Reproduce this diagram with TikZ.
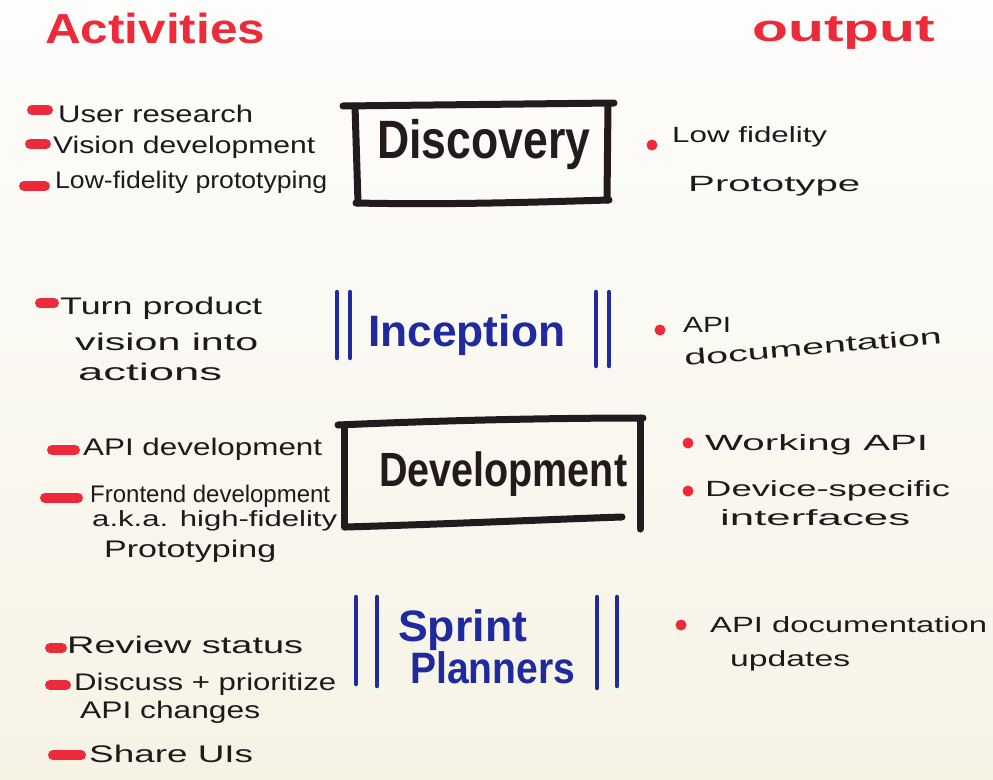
\documentclass[tikz,border=0pt]{standalone}
\usepackage{fontspec}
\setmainfont{Liberation Sans}
\usepackage{graphicx}
% stretch a line of text to a given width (in pt) while keeping its height
\newcommand\fitw[2]{\resizebox{#1pt}{\height}{#2}}

\definecolor{ink}{HTML}{1E1A1C}
\definecolor{marker}{HTML}{231A1E}
\definecolor{redmark}{HTML}{EC2A3A}
\definecolor{bluemark}{HTML}{1F2A9E}
\definecolor{paperTop}{HTML}{FDFDFC}
\definecolor{paperBot}{HTML}{F6F3E5}

\begin{document}
\begin{tikzpicture}[x=1pt,y=-1pt,
  note/.style={anchor=base west,inner sep=0pt,text=ink,font=\fontsize{24}{26}\selectfont},
  outnote/.style={note,font=\fontsize{22}{24}\selectfont},
  heading/.style={anchor=base west,inner sep=0pt,text=redmark,font=\bfseries\fontsize{42}{46}\selectfont},
  phase/.style={anchor=base west,inner sep=0pt,text=marker,font=\bfseries\fontsize{54}{58}\selectfont},
  meeting/.style={anchor=base west,inner sep=0pt,text=bluemark,font=\bfseries\fontsize{44}{48}\selectfont},
  bullet/.style={line width=10pt,line cap=round,draw=redmark},
  dot/.style={fill=redmark},
  frame/.style={line width=7pt,line cap=round,line join=round,draw=marker},
  bar/.style={line width=4.5pt,line cap=round,draw=bluemark}]

% paper
\useasboundingbox (0,0) rectangle (993,779);
\shade[top color=paperTop,bottom color=paperBot] (0,0) rectangle (993,779);

% column headings
\node[heading] (hAct) at (45,43) {\fitw{220}{Activities}};
\node[heading,font=\bfseries\fontsize{38}{42}\selectfont] (hOut) at (752,41) {\fitw{183}{output}};

% ---------------- Discovery ----------------
\draw[frame] (343,106) -- (614,103);
\draw[frame] (355,106) -- (358,203);
\draw[frame] (608,104) -- (607,200);
\draw[frame] (356,203) .. controls (450,205) and (540,202) .. (609,200);
\node[phase] (disc) at (377,158) {\fitw{213}{Discovery}};

\draw[bullet] (32,110) -- (48,110);
\node[note] (a1) at (58,122) {\fitw{195}{User research}};
\draw[bullet] (30,144) -- (46,144);
\node[note] (a2) at (53,153) {\fitw{262}{Vision development}};
\draw[bullet] (24,186) -- (45,186);
\node[note] (a3) at (55,188) {\fitw{272}{Low-fidelity prototyping}};

\fill[dot] (652,145) circle (5.5);
\node[outnote] (o1) at (672,142) {\fitw{155}{Low fidelity}};
\node[outnote] (o1b) at (688,191) {\fitw{172}{Prototype}};

% ---------------- Inception ----------------
\draw[bar] (337,292) -- (337,358);
\draw[bar] (350,292) -- (350,358);
\draw[bar] (596,292) -- (596,366);
\draw[bar] (609,292) -- (609,366);
\node[meeting] (incep) at (368,346) {\fitw{197}{Inception}};

\draw[bullet] (40,303) -- (54,303);
\node[note] (a4) at (60,314) {\fitw{202}{Turn product}};
\node[note] (a4b) at (75,350) {\fitw{183}{vision into}};
\node[note] (a4c) at (78,380) {\fitw{144}{actions}};

\fill[dot] (660,330) circle (5.5);
\node[outnote] (o2) at (683,332) {\fitw{48}{API}};
\node[outnote,rotate=5] (o2b) at (685,366) {\fitw{258}{documentation}};

% ---------------- Development ----------------
\draw[frame] (338,425) .. controls (450,420) and (560,418) .. (643,418);
\draw[frame] (344,426) -- (344,527);
\draw[frame] (640,418) -- (640,529);
\draw[frame] (345,527) .. controls (450,524) and (560,519) .. (622,517);
\node[phase,font=\bfseries\fontsize{48}{52}\selectfont] (devel) at (379,486) {\fitw{248}{Development}};

\draw[bullet] (52,450) -- (75,450);
\node[note] (a5) at (83,455) {\fitw{239}{API development}};
\draw[bullet] (45,498) -- (78,498);
\node[note] (a6) at (90,502) {\fitw{240}{Frontend development}};
\node[note,font=\fontsize{22}{24}\selectfont] (a6b) at (92,526) {\fitw{245}{a.k.a. high-fidelity}};
\node[note] (a6c) at (104,557) {\fitw{172}{Prototyping}};

\fill[dot] (688,443) circle (5.5);
\node[outnote] (o3) at (705,450) {\fitw{223}{Working API}};
\fill[dot] (688,491) circle (5.5);
\node[outnote] (o4) at (705,496) {\fitw{245}{Device-specific}};
\node[outnote] (o4b) at (720,525) {\fitw{190}{interfaces}};

% ---------------- Sprint Planners ----------------
\draw[bar] (356,597) -- (356,684);
\draw[bar] (377,597) -- (377,686);
\draw[bar] (597,597) -- (597,688);
\draw[bar] (617,597) -- (617,686);
\node[meeting] (sprint) at (398,641) {\fitw{129}{Sprint}};
\node[meeting] (plan) at (410,683) {\fitw{165}{Planners}};

\draw[bullet] (50,648) -- (62,648);
\node[note] (a7) at (67,653) {\fitw{236}{Review status}};
\draw[bullet] (50,685) -- (66,685);
\node[note] (a8) at (74,690) {\fitw{262}{Discuss + prioritize}};
\node[note] (a8b) at (80,718) {\fitw{180}{API changes}};
\draw[bullet] (53,755) -- (81,755);
\node[note] (a9) at (89,762) {\fitw{164}{Share UIs}};

\fill[dot] (681,625) circle (5.5);
\node[outnote] (o5) at (710,632) {\fitw{277}{API documentation}};
\node[outnote] (o5b) at (730,666) {\fitw{120}{updates}};
\end{tikzpicture}
\end{document}
